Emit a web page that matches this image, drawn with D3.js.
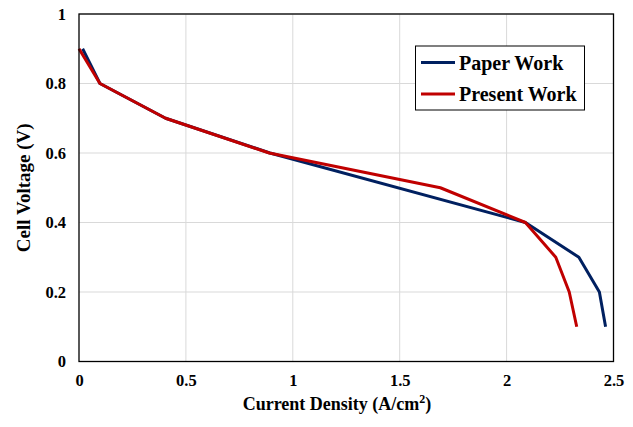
<!DOCTYPE html>
<html>
<head>
<meta charset="utf-8">
<script src="https://cdn.jsdelivr.net/npm/d3@7"></script>
<style>
  body { margin: 0; background: #fff; }
  svg text { font-weight: bold; }
</style>
</head>
<body>
<div id="chart"></div>
<script>
// values
const paperX = [0.017, 0.098, 0.405, 0.893, 2.088, 2.338, 2.434, 2.463];
const paperY = [0.9, 0.8, 0.7, 0.6, 0.4, 0.3, 0.2, 0.1];
const presentX = [0, 0.098, 0.405, 0.89, 1.69, 2.088, 2.23, 2.293, 2.328];
const presentY = [0.9, 0.8, 0.7, 0.6, 0.5, 0.4, 0.3, 0.2, 0.1];
const xTicks = [0, 0.5, 1, 1.5, 2, 2.5];
const yTicks = [0, 0.2, 0.4, 0.6, 0.8, 1];
const seriesNames = ["Paper Work", "Present Work"];
const seriesColors = ["#002060", "#C00000"];

const width = 633, height = 427;
const plotL = 79, plotR = 613.5, plotT = 14, plotB = 361.5;
const serif = "'Liberation Serif', 'Times New Roman', serif";

const svg = d3.select("#chart").append("svg")
    .attr("width", width)
    .attr("height", height)
    .attr("font-family", serif);

const x = d3.scaleLinear().domain([0, 2.5]).range([plotL, plotR]);
const y = d3.scaleLinear().domain([0, 1]).range([plotB, plotT]);

// grid
svg.append("g")
    .selectAll("line.vg")
    .data(xTicks.slice(1))
    .enter().append("line")
    .attr("x1", d => x(d)).attr("x2", d => x(d))
    .attr("y1", plotT).attr("y2", plotB)
    .style("stroke", "#d9d9d9").style("stroke-width", 1);

svg.append("g")
    .selectAll("line.hg")
    .data(yTicks.slice(1))
    .enter().append("line")
    .attr("x1", plotL).attr("x2", plotR)
    .attr("y1", d => y(d)).attr("y2", d => y(d))
    .style("stroke", "#d9d9d9").style("stroke-width", 1);

// axes (labels only, frame drawn below)
const xAxis = svg.append("g")
    .attr("transform", "translate(0," + plotB + ")")
    .call(d3.axisBottom(x).tickValues(xTicks).tickSize(0).tickPadding(13).tickFormat(d3.format("")));
xAxis.attr("font-family", serif);
xAxis.select(".domain").remove();
xAxis.selectAll("text").style("font-size", "16.5px").style("fill", "#000");

const yAxis = svg.append("g")
    .attr("transform", "translate(" + plotL + ",0)")
    .call(d3.axisLeft(y).tickValues(yTicks).tickSize(0).tickPadding(13).tickFormat(d3.format("")));
yAxis.attr("font-family", serif);
yAxis.select(".domain").remove();
yAxis.selectAll("text").style("font-size", "16.5px").style("fill", "#000");

// lines
const paper = paperX.map((v, i) => [v, paperY[i]]);
const present = presentX.map((v, i) => [v, presentY[i]]);
const line = d3.line().x(d => x(d[0])).y(d => y(d[1]));

[paper, present].forEach(function(data, i) {
    svg.append("path")
        .datum(data)
        .attr("d", line)
        .style("fill", "none")
        .style("stroke", seriesColors[i])
        .style("stroke-width", 3)
        .style("stroke-linejoin", "round");
});

// plot frame
svg.append("rect")
    .attr("x", plotL).attr("y", plotT)
    .attr("width", plotR - plotL).attr("height", plotB - plotT)
    .style("fill", "none").style("stroke", "#000").style("stroke-width", 1.3);

// axis titles
const xTitle = svg.append("text")
    .attr("x", 337).attr("y", 410)
    .attr("text-anchor", "middle")
    .style("font-size", "18px");
xTitle.append("tspan").text("Current Density (A/cm");
xTitle.append("tspan").attr("baseline-shift", "super").style("font-size", "12px").text("2");
xTitle.append("tspan").text(")");

svg.append("text")
    .attr("transform", "translate(30," + y(0.5) + ") rotate(-90)")
    .attr("text-anchor", "middle")
    .style("font-size", "19px")
    .text("Cell Voltage (V)");

// legend
const legend = svg.append("g");
legend.append("rect")
    .attr("x", 415.5).attr("y", 46)
    .attr("width", 169).attr("height", 64)
    .style("fill", "#fff").style("stroke", "#000").style("stroke-width", 1);

seriesNames.forEach(function(name, i) {
    const ly = 62.5 + i * 31.5;
    legend.append("line")
        .attr("x1", 421).attr("x2", 455)
        .attr("y1", ly).attr("y2", ly)
        .style("stroke", seriesColors[i]).style("stroke-width", 3);
    legend.append("text")
        .attr("x", 459).attr("y", ly + 7)
        .style("font-size", "20px")
        .text(name);
});
</script>
</body>
</html>
